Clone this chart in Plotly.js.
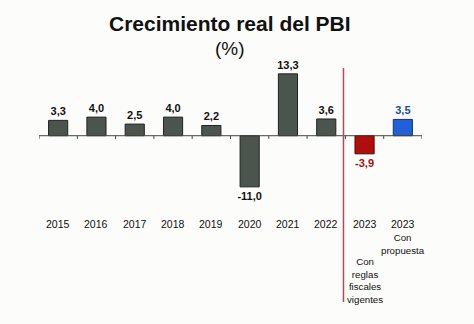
<!DOCTYPE html>
<html><head><meta charset="utf-8">
<script src="https://cdn.plot.ly/plotly-3.0.1.min.js"></script>
<style>html,body{margin:0;padding:0;background:#fcfcfa;}#c{width:474px;height:324px;}</style>
</head><body><div id="c"></div>
<script>
var categories = ["2015","2016","2017","2018","2019","2020","2021","2022","2023a","2023b"];
var yearLabels = ["2015","2016","2017","2018","2019","2020","2021","2022","2023","2023"];
var values = [3.3, 4.0, 2.5, 4.0, 2.2, -11.0, 13.3, 3.6, -3.9, 3.5];
var subLabels = ["", "", "", "", "", "", "", "", "Con<br>reglas<br>fiscales<br>vigentes", "Con<br>propuesta"];

var barColors = values.map(function(v,i){ return i===8 ? "#b00d0d" : (i===9 ? "#2060d8" : "#4c544e"); });
var lineColors = values.map(function(v,i){ return i===8 ? "#5a0808" : (i===9 ? "#1a2f70" : "#222222"); });
var textColors = values.map(function(v,i){ return i===8 ? "#a01010" : (i===9 ? "#1a4aa8" : "#111111"); });
var texts = values.map(function(v){ return v.toFixed(1).replace(".", ","); });

var FONT = "Liberation Sans, Arial, sans-serif";
var trace = {
  type: "bar", x: categories, y: values, width: 0.5,
  marker: {color: barColors, line: {color: lineColors, width: 1}},
  text: texts, textposition: "outside", cliponaxis: false, constraintext: "none",
  textfont: {family: FONT, size: 11, color: textColors, weight: "bold"},
  hoverinfo: "none"
};

// plot area spans pixel rows 68..302
function py(p){ return (302 - p) / 234; }

var annotations = [];
categories.forEach(function(c, i){
  annotations.push({x: i, xref: "x", y: py(224), yref: "paper", yanchor: "middle", showarrow: false,
    text: yearLabels[i], font: {family: FONT, size: 10.5, color: "#111"}});
});
annotations.push({x: 9, xref: "x", y: py(229.5), yref: "paper", yanchor: "top", showarrow: false,
  text: subLabels[9], font: {family: FONT, size: 9.7, color: "#111"}});
annotations.push({x: 8, xref: "x", y: py(253.5), yref: "paper", yanchor: "top", showarrow: false,
  text: subLabels[8], font: {family: FONT, size: 9.7, color: "#111"}});
annotations.push({x: 0.498, xref: "paper", y: py(23), yref: "paper", yanchor: "middle", showarrow: false,
  text: "<b>Crecimiento real del PBI</b>", font: {family: FONT, size: 21, color: "#111"}});
annotations.push({x: 0.498, xref: "paper", y: py(48), yref: "paper", yanchor: "middle", showarrow: false,
  text: "(%)", font: {family: FONT, size: 19, color: "#111"}});

var shapes = [
  {type: "line", xref: "paper", x0: 0, x1: 1, yref: "y", y0: 0, y1: 0, line: {color: "#444", width: 1}},
  {type: "line", xref: "x", x0: 7.45, x1: 7.45, yref: "paper", y0: 0, y1: 1, line: {color: "#b04a62", width: 1.5}}
];
for (var k = 0; k <= categories.length; k++) {
  shapes.push({type: "line", xref: "x", x0: k - 0.5, x1: k - 0.5, yref: "y", y0: 0, y1: -0.7, line: {color: "#444", width: 1}});
}

var layout = {
  width: 474, height: 324,
  margin: {l: 39, r: 52, t: 68, b: 22},
  paper_bgcolor: "#fcfcfa", plot_bgcolor: "rgba(0,0,0,0)",
  showlegend: false,
  xaxis: {type: "category", range: [-0.5, 9.5], showticklabels: false, showline: false,
    ticks: "", showgrid: false, zeroline: false, fixedrange: true},
  yaxis: {range: [-35.76, 14.56], visible: false, zeroline: false, showgrid: false, fixedrange: true},
  shapes: shapes,
  annotations: annotations
};

Plotly.newPlot("c", [trace], layout, {staticPlot: true, displayModeBar: false});
</script></body></html>
